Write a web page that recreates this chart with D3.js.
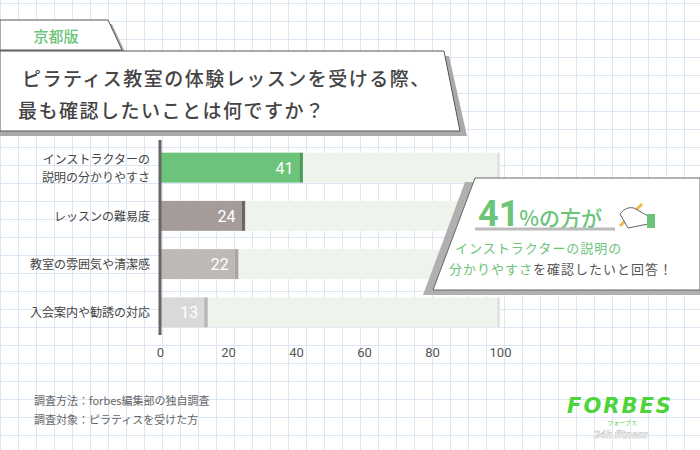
<!DOCTYPE html>
<html><head><meta charset="utf-8">
<script src="https://cdn.jsdelivr.net/npm/d3@7"></script>
<style>body{margin:0;background:#fff}svg{display:block;font-family:"Noto Sans CJK JP","Noto Sans",sans-serif}</style>
</head><body><svg id="chart" width="700" height="450"></svg>
<script>
const categories = ["インストラクターの\n説明の分かりやすさ", "レッスンの難易度", "教室の雰囲気や清潔感", "入会案内や勧誘の対応"];
const values = [41, 24, 22, 13];
const barColors = ["#6cc47a", "#a59c9a", "#bdb9b7", "#dad8d8"];
const capColors = ["#4a9a58", "#6d6665", "#a9a5a3", "#b8b5b4"];
const ticks = [0, 20, 40, 60, 80, 100];

const svg = d3.select("#chart");

// grid paper
const grid = svg.append("g").attr("stroke", "#dde6f3").attr("stroke-width", 1);
for (let x = 0; x <= 700; x += 18) grid.append("line").attr("x1", x + 0.5).attr("x2", x + 0.5).attr("y1", 0).attr("y2", 450);
for (let y = 3; y <= 450; y += 18) grid.append("line").attr("y1", y + 0.5).attr("y2", y + 0.5).attr("x1", 0).attr("x2", 700);

// tag + title
svg.append("polygon").attr("points", "0,24 112,24 126,54 0,54").attr("fill", "#aaa");
svg.append("polygon").attr("points", "0,20 108,20 122,50 0,50").attr("fill", "#fff").attr("stroke", "#555");
svg.append("text").attr("x", 56).attr("y", 42).attr("text-anchor", "middle").attr("fill", "#6cc47a")
  .attr("font-size", 15).attr("font-weight", 500).text("京都版");
svg.append("polygon").attr("points", "0,56 449,56 467,136 0,136").attr("fill", "#aaa");
svg.append("polygon").attr("points", "0,51 444,51 460,131 0,131").attr("fill", "#fff").attr("stroke", "#555");
svg.append("text").attr("x", 22).attr("y", 86).attr("fill", "#444").attr("font-size", 19).attr("font-weight", 500)
  .attr("letter-spacing", 1.5).text("ピラティス教室の体験レッスンを受ける際、");
svg.append("text").attr("x", 18).attr("y", 118).attr("fill", "#444").attr("font-size", 19).attr("font-weight", 500)
  .attr("letter-spacing", 1.5).text("最も確認したいことは何ですか？");

// chart
const x = d3.scaleLinear().domain([0, 100]).range([160, 500]);
const y = d3.scaleBand().domain(categories).range([144, 336]).paddingInner(0.38).paddingOuter(0.18);

svg.append("g").selectAll("rect").data(categories).join("rect")
  .attr("x", x(0)).attr("y", d => y(d)).attr("width", x(100) - x(0)).attr("height", y.bandwidth()).attr("fill", "#eef3ec");
svg.append("g").selectAll("rect").data(categories).join("rect")
  .attr("x", x(100) - 3).attr("y", d => y(d)).attr("width", 3).attr("height", y.bandwidth()).attr("fill", "#e2e4e1");
svg.append("g").selectAll("rect").data(values).join("rect")
  .attr("x", x(0)).attr("y", (d, i) => y(categories[i])).attr("width", d => x(d) - x(0)).attr("height", y.bandwidth())
  .attr("fill", (d, i) => barColors[i]);
svg.append("g").selectAll("rect").data(values).join("rect")
  .attr("x", d => x(d)).attr("y", (d, i) => y(categories[i])).attr("width", 3.5).attr("height", y.bandwidth())
  .attr("fill", (d, i) => capColors[i]);
svg.append("g").selectAll("text").data(values).join("text")
  .attr("x", d => x(d) - 6).attr("y", (d, i) => y(categories[i]) + y.bandwidth() / 2 + 6)
  .attr("text-anchor", "end").attr("fill", "#fff").attr("font-size", 16).attr("font-family", "Roboto, sans-serif").text(d => d);

svg.append("line").attr("x1", 160).attr("x2", 160).attr("y1", 140).attr("y2", 335).attr("stroke", "#666").attr("stroke-width", 3);

const xAxis = svg.append("g").attr("transform", "translate(0,345)")
  .call(d3.axisBottom(x).tickValues(ticks).tickSize(0).tickFormat(d3.format("d")));
xAxis.select(".domain").remove();
xAxis.selectAll("text").attr("fill", "#555").attr("font-size", 13).attr("font-family", "Roboto, sans-serif");

categories.forEach(c => {
  const lines = c.split("\n");
  const cy = y(c) + y.bandwidth() / 2;
  lines.forEach((l, j) => svg.append("text").attr("x", 150).attr("y", cy + 5 + (j - (lines.length - 1) / 2) * 18)
    .attr("text-anchor", "end").attr("fill", "#444").attr("font-size", 12).text(l));
});

// callout
svg.append("polygon").attr("points", "465,182 700,182 700,295 423,295").attr("fill", "#b0b0b0");
svg.append("polygon").attr("points", "475,178 700,178 700,290 433,290").attr("fill", "#fff").attr("stroke", "#666");
const t1 = svg.append("text").attr("x", 478).attr("y", 226).attr("fill", "#6cc47a");
t1.append("tspan").attr("font-size", 36).attr("font-weight", 700).attr("font-family", "Roboto, sans-serif").text("41");
t1.append("tspan").attr("font-size", 21).attr("font-weight", 500).text("%の方が");
svg.append("line").attr("x1", 475).attr("x2", 615).attr("y1", 229).attr("y2", 229).attr("stroke", "#bbb").attr("stroke-width", 3);
// pencil hand
svg.append("line").attr("x1", 620).attr("x2", 642).attr("y1", 226).attr("y2", 204).attr("stroke", "#f0b94a").attr("stroke-width", 3);
svg.append("path").attr("d", "M620,214 q6,-8 14,-6 l14,8 l0,8 l-20,4 z").attr("fill", "#fff").attr("stroke", "#666");
svg.append("rect").attr("x", 647).attr("y", 214).attr("width", 8).attr("height", 14).attr("fill", "#6cc47a");
svg.append("text").attr("x", 455).attr("y", 253).attr("fill", "#6cc47a").attr("font-size", 13).attr("letter-spacing", 1).text("インストラクターの説明の");
const t2 = svg.append("text").attr("x", 449).attr("y", 274).attr("font-size", 13).attr("letter-spacing", 1);
t2.append("tspan").attr("fill", "#6cc47a").text("分かりやすさ");
t2.append("tspan").attr("fill", "#555").text("を確認したいと回答！");

// footer
svg.append("text").attr("x", 34).attr("y", 405).attr("fill", "#666").attr("font-size", 11).text("調査方法：forbes編集部の独自調査");
svg.append("text").attr("x", 34).attr("y", 424).attr("fill", "#666").attr("font-size", 11).text("調査対象：ピラティスを受けた方");
svg.append("text").attr("x", 620).attr("y", 413).attr("text-anchor", "middle").attr("fill", "#4cd43a").attr("font-size", 21)
  .attr("font-weight", 900).attr("font-style", "italic").attr("font-family", "DejaVu Sans, sans-serif").attr("letter-spacing", 2).text("FORBES");
svg.append("text").attr("x", 622).attr("y", 425).attr("text-anchor", "middle").attr("fill", "#4cd43a").attr("font-size", 6).text("フォーブス");
svg.append("text").attr("x", 620).attr("y", 438).attr("text-anchor", "middle").attr("fill", "#fff").attr("stroke", "#bbb").attr("stroke-width", 0.5)
  .attr("font-size", 10).attr("font-weight", 700).attr("font-style", "italic").text("24h fitness");
</script></body></html>
